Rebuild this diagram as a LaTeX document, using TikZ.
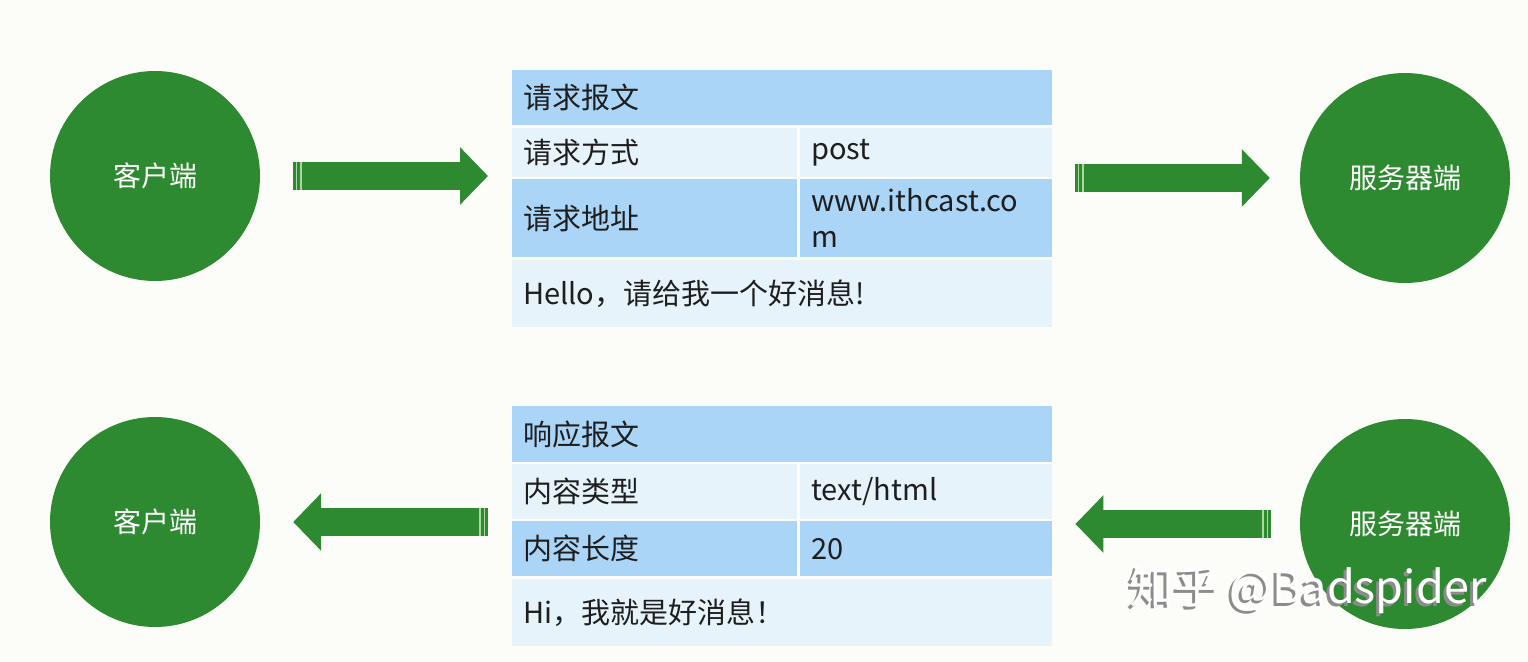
\documentclass[tikz,border=0pt]{standalone}
\usepackage{fontspec}
\setmainfont{Noto Sans CJK SC}
\usepackage{tikz}
\usetikzlibrary{arrows.meta,positioning}
\usepackage{xcolor}
\definecolor{msgbg}{RGB}{252,253,248}
\definecolor{msggreen}{RGB}{46,138,48}
\definecolor{msgstripe}{RGB}{170,215,160}
\definecolor{msghead}{RGB}{170,213,247}
\definecolor{msgrow}{RGB}{230,243,250}
\definecolor{msgtext}{RGB}{30,30,30}
\tikzstyle{peer} = [circle,fill=msggreen,minimum size=210pt,inner sep=0pt,text=white,font=\fontsize{28}{34}\selectfont]
\tikzstyle{cell} = [anchor=north west,inner xsep=11pt,inner ysep=0pt,align=left,text=msgtext,font=\fontsize{29}{36}\selectfont]
\tikzstyle{hdcell} = [cell,fill=msghead]
\tikzstyle{rowcell} = [cell,fill=msgrow]
\tikzstyle{widecol} = [text width=518pt]
\tikzstyle{keycol} = [text width=263pt]
\tikzstyle{valcol} = [text width=230pt]
\tikzstyle{bigarrow} = [draw=msggreen,line width=28pt,-{Triangle[length=28pt,width=56pt]}]
\tikzstyle{stripe} = [draw=msgstripe,line width=1.5pt]
\tikzstyle{wmark} = [font=\fontsize{45}{50}\selectfont,inner sep=0pt]

\begin{document}
\begin{tikzpicture}[x=1pt,y=-1pt]
% Background
\fill[msgbg] (0,0) rectangle (1528,661);

% Clients and servers
\node[peer] (client1) at (155,176) {客户端};
\node[peer] (server1) at (1405,178) {服务器端};
\node[peer] (client2) at (155,522) {客户端};
\node[peer] (server2) at (1405,524) {服务器端};

% Request message
\node[hdcell,widecol,minimum height=55pt] (reqhead) at (512,70) {请求报文};
\node[rowcell,keycol,minimum height=49pt] (reqk1) at (512,128) {请求方式};
\node[rowcell,valcol,minimum height=49pt] (reqv1) at (800,128) {post};
\node[hdcell,keycol,minimum height=78pt] (reqk2) at (512,179) {请求地址};
\node[hdcell,valcol,minimum height=78pt] (reqv2) at (800,179) {www.ithcast.co\\m};
\node[rowcell,widecol,minimum height=67pt] (reqbody) at (512,260) {Hello，请给我一个好消息!};

% Response message
\node[hdcell,widecol,minimum height=56pt] (resphead) at (512,406) {响应报文};
\node[rowcell,keycol,minimum height=55pt] (respk1) at (512,464) {内容类型};
\node[rowcell,valcol,minimum height=55pt] (respv1) at (800,464) {text/html};
\node[hdcell,keycol,minimum height=55pt] (respk2) at (512,521) {内容长度};
\node[hdcell,valcol,minimum height=55pt] (respv2) at (800,521) {20};
\node[rowcell,widecol,minimum height=67pt] (respbody) at (512,579) {Hi，我就是好消息！};

% Arrows
\draw[bigarrow,shorten <=33pt,shorten >=24pt] (client1.east) -- (client1.east -| reqhead.west);
\draw[bigarrow,shorten <=23pt,shorten >=30pt] (server1.west -| reqhead.east) -- (server1.west);
\draw[bigarrow,shorten <=29pt,shorten >=23pt] (server2.west) -- (server2.west -| resphead.east);
\draw[bigarrow,shorten <=24pt,shorten >=33pt] (client2.east -| resphead.west) -- (client2.east);
\foreach \x/\y in {296.5/176,301/176,1078.5/178,1083/178,484.5/522,480/522,1267.5/524,1263/524}
  \draw[stripe] (\x,\y-14) -- (\x,\y+14);

% Watermark
\node[wmark,text=black!45] (markshadow) at (1305,593) {知乎 @Badspider};
\node[wmark,text=white] (mark) at (1308,590) {知乎 @Badspider};
\end{tikzpicture}
\end{document}
